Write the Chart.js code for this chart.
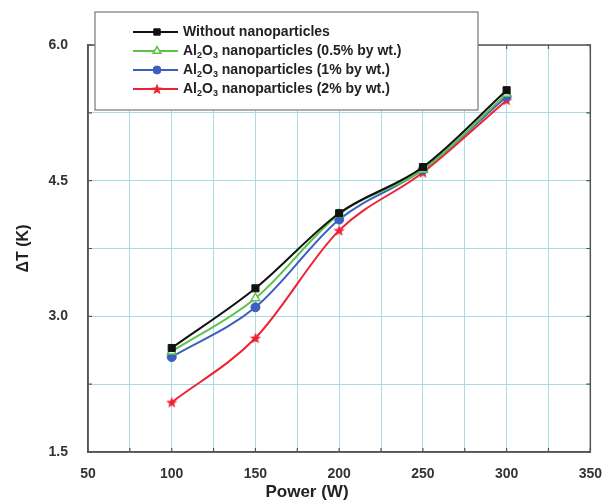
<!DOCTYPE html>
<html>
<head>
<meta charset="utf-8">
<script src="https://cdn.jsdelivr.net/npm/chart.js@4.4.1/dist/chart.umd.min.js"></script>
<style>
  html, body { margin: 0; padding: 0; background: #fff; }
  #wrap { position: relative; width: 605px; height: 502px; }
</style>
</head>
<body>
<div id="wrap"><canvas id="chart" width="605" height="502"></canvas></div>
<script>
// Power (W) on the x axis
var powers = [100, 150, 200, 250, 300];
// Delta T (K) per series
var withoutNp = [2.65, 3.31, 4.14, 4.65, 5.50];
var al05 = [2.61, 3.20, 4.13, 4.62, 5.46];
var al1 = [2.55, 3.10, 4.07, 4.62, 5.43];
var al2 = [2.05, 2.76, 3.95, 4.59, 5.39];
// tick labels shown on the axes
var xLabels = [50, 100, 150, 200, 250, 300, 350];
var yLabels = [1.5, 3.0, 4.5, 6.0];
var xTitle = 'Power (W)';
var yTitle = 'ΔT (K)';

var seriesNames = [
    {pre: 'Without nanoparticles'},
    {pre: 'Al', sub1: '2', mid: 'O', sub2: '3', post: ' nanoparticles (0.5% by wt.)'},
    {pre: 'Al', sub1: '2', mid: 'O', sub2: '3', post: ' nanoparticles (1% by wt.)'},
    {pre: 'Al', sub1: '2', mid: 'O', sub2: '3', post: ' nanoparticles (2% by wt.)'}
];

var toPoints = function(vals) {
    return powers.map(function(p, i) {
        return {x: p, y: vals[i]};
    });
};

// filled red star marker
var makeStar = function(size, color) {
    var c = document.createElement('canvas');
    c.width = size;
    c.height = size;
    var g = c.getContext('2d');
    var cx = size / 2, cy = size / 2 + 0.5, ro = size / 2, ri = ro * 0.42;
    g.beginPath();
    for (var i = 0; i < 10; i++) {
        var r = i % 2 === 0 ? ro : ri;
        var a = -Math.PI / 2 + i * Math.PI / 5;
        g.lineTo(cx + r * Math.cos(a), cy + r * Math.sin(a));
    }
    g.closePath();
    g.fillStyle = color;
    g.fill();
    return c;
};
var starImg = makeStar(12, '#ee2233');

var GRID = '#a9dde6';
var AXIS = '#555555';
var TXT = '#333333';
var NONE = 'rgba(0,0,0,0)';
var FAMILY = '"Liberation Sans", Arial, sans-serif';

var frame = {
    id: 'frame',
    afterDatasetsDraw: function(chart) {
        var ctx = chart.ctx, a = chart.chartArea;
        var xs = chart.scales.x, ys = chart.scales.y;
        ctx.save();
        ctx.strokeStyle = AXIS;
        ctx.lineWidth = 1.5;
        ctx.strokeRect(a.left, a.top, a.right - a.left, a.bottom - a.top);
        ctx.lineWidth = 1.2;
        ctx.beginPath();
        xs.ticks.forEach(function(t) {
            var px = xs.getPixelForValue(t.value);
            ctx.moveTo(px, a.bottom);
            ctx.lineTo(px, a.bottom - 4);
            ctx.moveTo(px, a.top);
            ctx.lineTo(px, a.top + 4);
        });
        ys.ticks.forEach(function(t) {
            var py = ys.getPixelForValue(t.value);
            ctx.moveTo(a.left, py);
            ctx.lineTo(a.left + 4, py);
            ctx.moveTo(a.right, py);
            ctx.lineTo(a.right - 4, py);
        });
        ctx.stroke();
        // x title sits left of the plot centre in the original
        ctx.fillStyle = '#222';
        ctx.font = 'bold 17px ' + FAMILY;
        ctx.textAlign = 'center';
        ctx.textBaseline = 'middle';
        ctx.fillText(xTitle, 307, 492);
        ctx.restore();
    },
    afterDraw: function(chart) {
        var ctx = chart.ctx;
        var box = {x: 95, y: 12, w: 383, h: 98};
        ctx.save();
        ctx.fillStyle = '#fff';
        ctx.fillRect(box.x, box.y, box.w, box.h);
        ctx.strokeStyle = '#777';
        ctx.lineWidth = 1.2;
        ctx.strokeRect(box.x, box.y, box.w, box.h);
        var rows = [32, 51, 70, 89];
        chart.data.datasets.forEach(function(ds, i) {
            var y = rows[i];
            ctx.strokeStyle = ds.borderColor;
            ctx.lineWidth = 2;
            ctx.beginPath();
            ctx.moveTo(133, y);
            ctx.lineTo(178, y);
            ctx.stroke();
            var style = ds.pointStyle;
            if (style instanceof HTMLCanvasElement) {
                ctx.drawImage(style, 157 - style.width / 2, y - style.height / 2);
            } else {
                ctx.fillStyle = ds.pointBackgroundColor;
                ctx.strokeStyle = ds.pointBorderColor;
                ctx.lineWidth = ds.pointBorderWidth;
                Chart.helpers.drawPoint(ctx, {
                    pointStyle: style,
                    radius: ds.pointRadius - 0.5,
                    borderWidth: ds.pointBorderWidth
                }, 157, y);
            }
            var n = seriesNames[i];
            var x = 183;
            var big = 'bold 14px ' + FAMILY;
            var small = 'bold 9px ' + FAMILY;
            ctx.fillStyle = '#222';
            ctx.textBaseline = 'middle';
            ctx.font = big;
            ctx.fillText(n.pre, x, y);
            x += ctx.measureText(n.pre).width;
            if (n.sub1) {
                ctx.font = small;
                ctx.fillText(n.sub1, x, y + 5);
                x += ctx.measureText(n.sub1).width;
                ctx.font = big;
                ctx.fillText(n.mid, x, y);
                x += ctx.measureText(n.mid).width;
                ctx.font = small;
                ctx.fillText(n.sub2, x, y + 5);
                x += ctx.measureText(n.sub2).width;
                ctx.font = big;
                ctx.fillText(n.post, x, y);
            }
        });
        ctx.restore();
    }
};

var tickFont = {family: FAMILY, size: 14, weight: 'bold'};
var titleFont = {family: FAMILY, size: 16, weight: 'bold'};

new Chart(document.getElementById('chart'), {
    type: 'line',
    data: {
        datasets: [{
            label: 'Without nanoparticles',
            data: toPoints(withoutNp),
            borderColor: '#111111',
            borderWidth: 2,
            pointStyle: 'rect',
            pointRadius: 5,
            pointBackgroundColor: '#111111',
            pointBorderColor: '#111111',
            pointBorderWidth: 1
        }, {
            label: 'Al2O3 nanoparticles (0.5% by wt.)',
            data: toPoints(al05),
            borderColor: '#5cc24a',
            borderWidth: 2,
            pointStyle: 'triangle',
            pointRadius: 5,
            pointBackgroundColor: '#ffffff',
            pointBorderColor: '#5cc24a',
            pointBorderWidth: 1.5
        }, {
            label: 'Al2O3 nanoparticles (1% by wt.)',
            data: toPoints(al1),
            borderColor: '#3c5fc0',
            borderWidth: 2,
            pointStyle: 'circle',
            pointRadius: 4.5,
            pointBackgroundColor: '#3c5fc0',
            pointBorderColor: '#3c5fc0',
            pointBorderWidth: 1
        }, {
            label: 'Al2O3 nanoparticles (2% by wt.)',
            data: toPoints(al2),
            borderColor: '#ee2233',
            borderWidth: 2,
            pointStyle: starImg,
            pointRadius: 6,
            pointBackgroundColor: '#ee2233',
            pointBorderColor: '#ee2233',
            pointBorderWidth: 1
        }]
    },
    options: {
        responsive: false,
        animation: false,
        layout: {
            padding: {left: 14, right: 14, top: 45, bottom: 0}
        },
        elements: {
            line: {cubicInterpolationMode: 'monotone'}
        },
        scales: {
            x: {
                type: 'linear',
                min: 50,
                max: 350,
                afterFit: function(scale) {
                    scale.height = 50;
                },
                grid: {color: GRID, drawTicks: true, tickLength: 11, tickColor: NONE},
                border: {color: AXIS, width: 1.5},
                ticks: {
                    stepSize: 25,
                    autoSkip: false,
                    maxRotation: 0,
                    padding: 3,
                    color: TXT,
                    font: tickFont,
                    callback: function(v) {
                        return xLabels.indexOf(v) >= 0 ? String(v) : '';
                    }
                },
                title: {display: false}
            },
            y: {
                min: 1.5,
                max: 6.0,
                afterFit: function(scale) {
                    scale.width = 74;
                },
                grid: {color: GRID, drawTicks: true, tickLength: 16, tickColor: NONE},
                border: {color: AXIS, width: 1.5},
                ticks: {
                    stepSize: 0.75,
                    autoSkip: false,
                    padding: 4,
                    color: TXT,
                    font: tickFont,
                    callback: function(v) {
                        var hit = yLabels.filter(function(l) {
                            return Math.abs(l - v) < 1e-6;
                        });
                        return hit.length ? v.toFixed(1) : '';
                    }
                },
                title: {
                    display: true,
                    text: yTitle,
                    color: '#222',
                    font: titleFont,
                    padding: {top: 0, bottom: 0}
                }
            }
        },
        plugins: {
            legend: {display: false},
            tooltip: {enabled: false}
        }
    },
    plugins: [frame]
});
</script>
</body>
</html>
